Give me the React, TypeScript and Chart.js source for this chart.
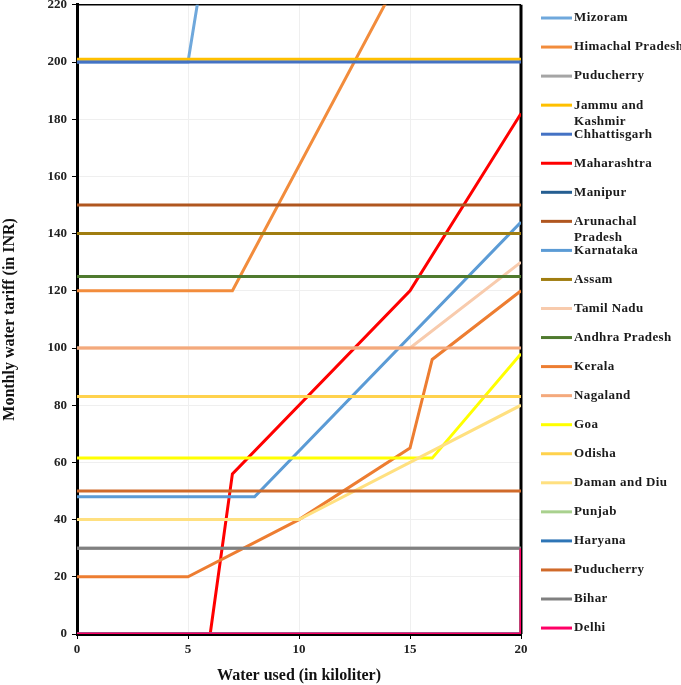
import React, { useEffect, useRef } from "react";
import { Chart, registerables } from "chart.js";

Chart.register(...registerables);

// ---- Data ----
const stateNames = [
  "Mizoram", "Himachal Pradesh", "Puducherry", "Jammu and\nKashmir", "Chhattisgarh",
  "Maharashtra", "Manipur", "Arunachal\nPradesh", "Karnataka", "Assam", "Tamil Nadu",
  "Andhra Pradesh", "Kerala", "Nagaland", "Goa", "Odisha", "Daman and Diu", "Punjab",
  "Haryana", "Puducherry", "Bihar", "Delhi",
];

const stateColors = [
  "#6FA8DC", "#F28C3C", "#A5A5A5", "#FFC000", "#4472C4",
  "#FF0000", "#255E91", "#B0561F", "#5B9BD5", "#A07D10", "#F8CBAD",
  "#4F7A2E", "#ED7D31", "#F4A97C", "#FFFF00", "#FFD24D", "#FFE080", "#A9D18E",
  "#2E75B6", "#D06A2A", "#808080", "#FF0066",
];

const mizoram: [number, number][] = [[0, 200], [5, 200], [6, 248]];
const himachalPradesh: [number, number][] = [[0, 120], [7, 120], [14, 222]];
const puducherryA: [number, number][] = [[0, 30], [20, 30]];
const jammuKashmir: [number, number][] = [[0, 201], [20, 201]];
const chhattisgarh: [number, number][] = [[0, 200], [20, 200]];
const maharashtra: [number, number][] = [[0, 0], [6, 0], [7, 56], [15, 120], [20, 182]];
const manipur: [number, number][] = [[0, 0], [20, 0]];
const arunachalPradesh: [number, number][] = [[0, 150], [20, 150]];
const karnataka: [number, number][] = [[0, 48], [8, 48], [20, 144]];
const assam: [number, number][] = [[0, 140], [20, 140]];
const tamilNadu: [number, number][] = [[0, 100], [15, 100], [20, 130]];
const andhraPradesh: [number, number][] = [[0, 125], [20, 125]];
const kerala: [number, number][] = [[0, 20], [5, 20], [10, 40], [15, 65], [16, 96], [20, 120]];
const nagaland: [number, number][] = [[0, 100], [20, 100]];
const goa: [number, number][] = [[0, 61.5], [16, 61.5], [20, 98]];
const odisha: [number, number][] = [[0, 83], [20, 83]];
const damanDiu: [number, number][] = [[0, 40], [10, 40], [20, 80]];
const punjab: [number, number][] = [[0, 0], [20, 0]];
const haryana: [number, number][] = [[0, 0], [20, 0]];
const puducherryB: [number, number][] = [[0, 50], [20, 50]];
const bihar: [number, number][] = [[0, 30], [20, 30]];
const delhi: [number, number][] = [[0, 0], [20, 0], [20, 30]];

const seriesData = [
  mizoram, himachalPradesh, puducherryA, jammuKashmir, chhattisgarh, maharashtra, manipur,
  arunachalPradesh, karnataka, assam, tamilNadu, andhraPradesh, kerala, nagaland, goa,
  odisha, damanDiu, punjab, haryana, puducherryB, bihar, delhi,
];

const xTicks = [0, 5, 10, 15, 20];
const yTicks = [0, 20, 40, 60, 80, 100, 120, 140, 160, 180, 200, 220];

const SERIF = "'Liberation Serif', 'Times New Roman', serif";
const OFFSET = 8; // canvas shifted up by this many px

const framePlugin = {
  id: "frame",
  beforeDatasetsDraw(chart: any) {
    const { ctx, chartArea } = chart;
    ctx.save();
    ctx.strokeStyle = "#000";
    ctx.lineWidth = 1.5;
    ctx.beginPath();
    ctx.moveTo(chartArea.left, chartArea.top);
    ctx.lineTo(chartArea.right, chartArea.top);
    ctx.stroke();
    ctx.lineWidth = 3;
    ctx.beginPath();
    ctx.moveTo(chartArea.right, chartArea.top);
    ctx.lineTo(chartArea.right, chartArea.bottom);
    ctx.stroke();
    ctx.restore();
  },
  afterDraw(chart: any) {
    const { ctx } = chart;
    ctx.save();
    chart.data.datasets.forEach((ds: any, i: number) => {
      const y = 18 + OFFSET + i * 29.05;
      ctx.strokeStyle = ds.borderColor;
      ctx.lineWidth = 3;
      ctx.beginPath();
      ctx.moveTo(541, y);
      ctx.lineTo(572, y);
      ctx.stroke();
      ctx.fillStyle = "#1a1a1a";
      ctx.font = `bold 13px ${SERIF}`;
      ctx.textBaseline = "middle";
      ctx.textAlign = "left";
      (ctx as any).letterSpacing = "0.4px";
      String(ds.label).split("\n").forEach((line: string, j: number) => {
        ctx.fillText(line, 574, y + j * 16);
      });
    });
    ctx.restore();
  },
};

export default function App() {
  const ref = useRef<HTMLCanvasElement | null>(null);
  useEffect(() => {
    if (!ref.current) return;
    const chart = new Chart(ref.current, {
      type: "line",
      data: {
        datasets: seriesData.map((pts, i) => ({
          label: stateNames[i],
          data: pts.map(([x, y]) => ({ x, y })),
          borderColor: stateColors[i],
          backgroundColor: stateColors[i],
          borderWidth: 3,
          pointRadius: 0,
          fill: false,
          tension: 0,
          order: seriesData.length - i,
        })),
      },
      options: {
        animation: false,
        responsive: true,
        maintainAspectRatio: false,
        layout: { padding: { left: 0, right: 160, top: 0, bottom: 0 } },
        plugins: { legend: { display: false }, tooltip: { enabled: false } },
        scales: {
          x: {
            type: "linear",
            min: 0,
            max: 20,
            afterBuildTicks: (s: any) => { s.ticks = xTicks.map((v) => ({ value: v })); },
            afterFit: (s: any) => { s.height = 51; },
            grid: { color: "#efefef", lineWidth: 1, tickColor: "#000", tickLength: 5 },
            border: { color: "#000", width: 3 },
            ticks: { font: { family: SERIF, weight: "bold", size: 13 }, color: "#222", padding: 3 },
            title: {
              display: true,
              text: "Water used (in kiloliter)",
              font: { family: SERIF, weight: "bold", size: 16 },
              color: "#111",
              padding: { top: 0, bottom: 0 },
            },
          },
          y: {
            type: "linear",
            min: 0,
            max: 220,
            afterBuildTicks: (s: any) => { s.ticks = yTicks.map((v) => ({ value: v })); },
            afterFit: (s: any) => { s.width = 77; },
            grid: { color: "#efefef", lineWidth: 1, tickColor: "#000", tickLength: 5 },
            border: { color: "#000", width: 3 },
            ticks: { font: { family: SERIF, weight: "bold", size: 13 }, color: "#222", padding: 5 },
            title: {
              display: true,
              text: "Monthly water tariff (in INR)",
              font: { family: SERIF, weight: "bold", size: 16 },
              color: "#111",
              padding: { top: 0, bottom: 0 },
            },
          },
        },
      },
      plugins: [framePlugin],
    } as any);
    return () => chart.destroy();
  }, []);
  return (
    <div style={{ position: "fixed", left: 0, top: -OFFSET, width: 681, height: 685 + OFFSET, background: "#fff" }}>
      <canvas ref={ref} />
    </div>
  );
}
